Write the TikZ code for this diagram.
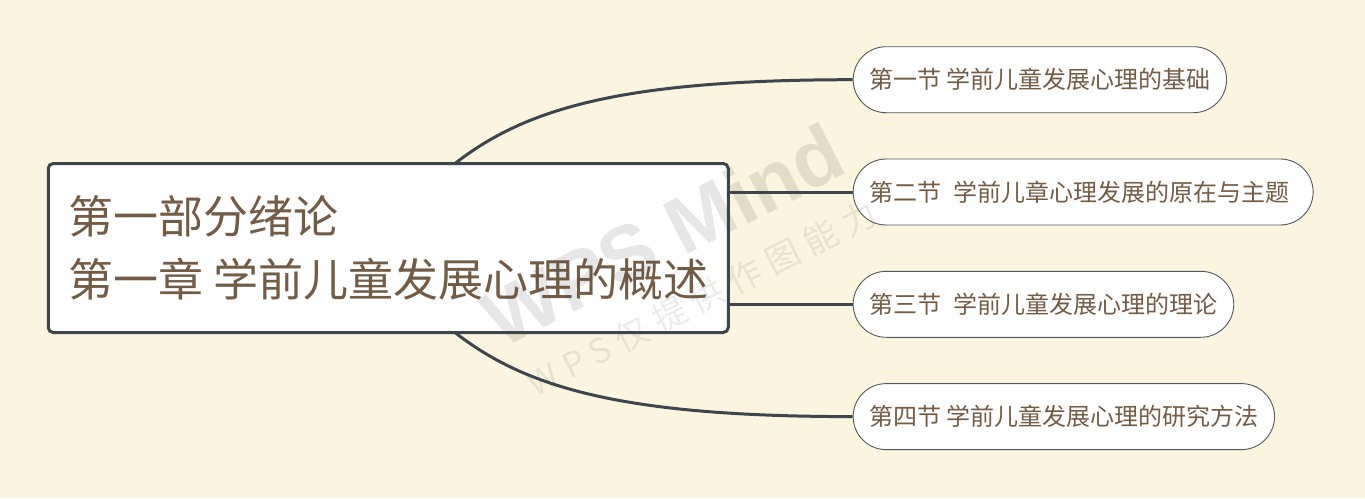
\documentclass[tikz,border=0pt]{standalone}
\usepackage{fontspec}
\setmainfont{Noto Sans CJK SC}
\newfontfamily\wmfont{Liberation Sans}
\usetikzlibrary{positioning}
\definecolor{paper}{HTML}{FBF4DE}
\definecolor{ink}{HTML}{735C46}
\definecolor{wire}{HTML}{3E464D}

\begin{document}
\begin{tikzpicture}[x=1pt,y=1pt,
          root/.style={draw=wire,line width=3pt,outer sep=0pt,fill=white,rounded corners=5pt,minimum width=680pt,minimum height=169pt,align=left,text=ink,font=\fontsize{45}{63}\selectfont},
          sec/.style={draw=wire!90,line width=.9pt,fill=white,rounded corners=33pt,minimum height=66pt,inner xsep=16pt,text=ink,font=\fontsize{24}{28}\selectfont,anchor=west},
          link/.style={draw=wire,line width=3pt},
          wm/.style={text=black!75,text opacity=.13,rotate=27}
        ]
        \useasboundingbox[fill=paper] (0,0) rectangle (1365,-498);

        \node[root] (root) at (388.25,-248) {第一部分绪论\\第一章 学前儿童发展心理的概述};

        %sections
        \node[sec] (s1) at (852.7,-79.7) {第一节 学前儿童发展心理的基础};
        \node[sec,below=112.3pt of s1.west,anchor=west] (s2) {第二节\hspace{12.6pt}学前儿章心理发展的原在与主题\kern7.4pt};
        \node[sec,below=112.3pt of s2.west,anchor=west] (s3) {第三节\hspace{12.6pt}学前儿童发展心理的理论};
        \node[sec,below=112.3pt of s3.west,anchor=west] (s4) {第四节 学前儿童发展心理的研究方法};

        %links
        \draw[link] ([xshift=66.75pt]root.north) .. controls +(38:90pt) and +(-230pt,0) .. (s1.west);
        \draw[link] (root.east |- s2.west) -- (s2.west);
        \draw[link] (root.east |- s3.west) -- (s3.west);
        \draw[link] ([xshift=66.75pt]root.south) .. controls +(-38:90pt) and +(-230pt,0) .. (s4.west);

        %watermark
        \node[wm,font=\wmfont\bfseries\fontsize{80}{80}\selectfont] (wm1) at (663,-235) {WPS Mind};
        \node[wm,text opacity=.1,font=\fontsize{34}{34}\selectfont\addfontfeature{LetterSpace=25}] (wm2) at (702,-298) {WPS仅提供作图能力};
    \end{tikzpicture}
\end{document}
